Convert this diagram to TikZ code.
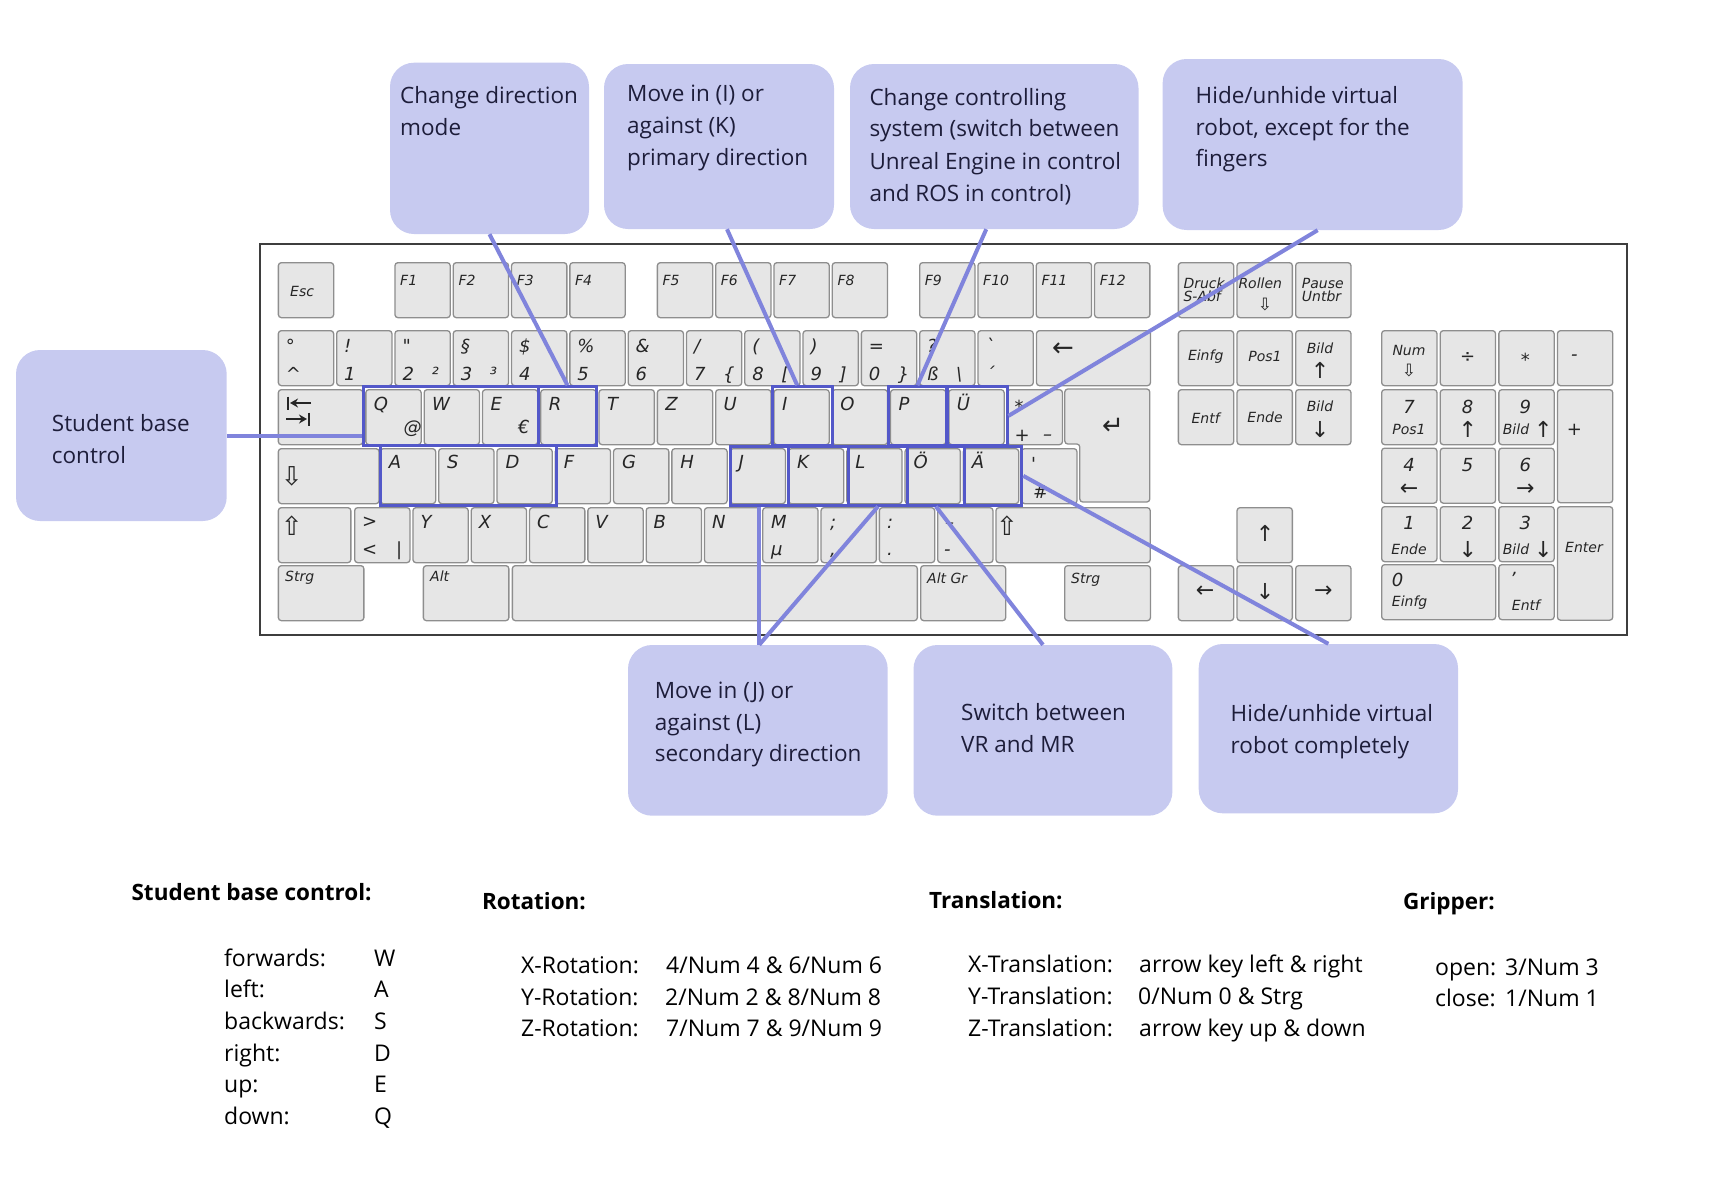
\documentclass[tikz,border=0pt]{standalone}
\usepackage{fontspec}
\setmainfont{Open Sans}
\newfontfamily\keyfont{DejaVu Sans}
\usetikzlibrary{calc,arrows.meta}
\definecolor{boxfill}{HTML}{C7CAF0}
\definecolor{linkcol}{HTML}{8084DC}
\definecolor{hlcol}{HTML}{5358C9}
\definecolor{keyfill}{HTML}{E6E6E6}
\definecolor{keyedge}{HTML}{8E8E8E}
\definecolor{framecol}{HTML}{3E3E3E}
\definecolor{notetext}{HTML}{1D1D3A}
\tikzset{
  frame/.style={draw=framecol, line width=2.5pt},
  key/.style={draw=keyedge, fill=keyfill, line width=1.3pt, rounded corners=3pt, inner sep=0pt, anchor=north west, minimum width=55.3pt, minimum height=55pt},
  keyshape/.style={draw=keyedge, fill=keyfill, line width=1.3pt, rounded corners=3pt},
  klab/.style={font=\keyfont\itshape\fontsize{18}{18}\selectfont, text=black!85, inner sep=0pt, anchor=base west},
  ksml/.style={klab, font=\keyfont\itshape\fontsize{14}{14}\selectfont},
  ksym/.style={klab, anchor=center},
  ksmlc/.style={ksml, anchor=center},
  karrow/.style={ksym, font=\keyfont\fontsize{26}{26}\selectfont},
  knav/.style={ksym, font=\keyfont\fontsize{22}{22}\selectfont},
  kmini/.style={ksym, font=\keyfont\fontsize{17}{17}\selectfont},
  tabarrow/.style={draw=black!85, line width=2pt, -{Stealth[length=8pt,width=9pt]}},
  tabbar/.style={draw=black!85, line width=2pt},
  hl/.style={draw=hlcol, line width=3pt, inner sep=0pt, minimum height=58.3pt},
  callout/.style={fill=boxfill, rounded corners=24pt, inner sep=0pt},
  link/.style={draw=linkcol, line width=4pt},
  note/.style={font=\fontsize{22.5}{30}\selectfont, text=notetext, inner sep=0pt, anchor=base west},
  legend/.style={font=\fontsize{23}{30}\selectfont, inner sep=0pt, anchor=base west},
  legendhead/.style={legend, font=\bfseries\fontsize{22.5}{30}\selectfont}
}
\begin{document}
\begin{tikzpicture}[x=1pt,y=-1pt]
\useasboundingbox (0,0) rectangle (1734,1184);
% keyboard frame
\draw[frame] (260,244) rectangle (1627,635);

% function row
\node[key] (kEsc) at (277.7,262) {};
\node[ksml] (lEsc) at (290,296.7) {Esc};
\foreach \n [count=\i from 0] in {1,2,3,4} {
  \node[key] (kF\n) at (394.3+58.3*\i,262) {};
  \node[ksml] (lF\n) at (400+58.3*\i,285) {F\n};
}
\foreach \n [count=\i from 0] in {5,6,7,8} {
  \node[key] (kF\n) at (656.7+58.3*\i,262) {};
  \node[ksml] (lF\n) at (662.4+58.3*\i,285) {F\n};
}
\foreach \n [count=\i from 0] in {9,10,11,12} {
  \node[key] (kF\n) at (919+58.3*\i,262) {};
  \node[ksml] (lF\n) at (924.7+58.3*\i,285) {F\n};
}

% number row
\foreach \shf/\dig/\agr [count=\i from 0] in {°/\textasciicircum/{},!/1/{},"/2/²,§/3/³,\$/4/{},\%/5/{},\&/6/{},{/}/7/\{,{(}/8/{[},{)}/9/{]},=/0/\},?/ß/\textbackslash,ˋ/´/{}} {
  \node[key] (kn\i) at (277.7+58.3*\i,330) {};
  \node[klab] (lns\i) at (285.7+58.3*\i,352) {\shf};
  \node[klab] (lnd\i) at (285.7+58.3*\i,380.5) {\dig};
  \node[klab] (lna\i) at (314.7+58.3*\i,380.5) {\agr};
}
\node[key, minimum width=114pt] (kBack) at (1035.8,330) {};
\node[karrow] (lBack) at (1063,349.3) {←};

% upper letter row
\node[key, minimum width=84.5pt] (kTab) at (277.7,389) {};
\draw[tabarrow] (311,403) -- (290,403);
\draw[tabbar] (288,396.5) -- (288,409.5);
\draw[tabarrow] (286,419) -- (307,419);
\draw[tabbar] (309,412.5) -- (309,425.5);
\foreach \k/\n [count=\i from 0] in {Q/Q,W/W,E/E,R/R,T/T,Z/Z,U/U,I/I,O/O,P/P,Ü/Ue} {
  \node[key] (k\n) at (365.2+58.3*\i,389) {};
  \node[klab] (l\n) at (373.7+58.3*\i,410) {\k};
}
\node[klab] (lAt) at (403.3,433.3) {@};
\node[klab] (lEuro) at (517.8,433.3) {€};
\node[key] (kPlus) at (1006.5,389) {};
\node[klab] (lPlus1) at (1014.5,413) {*};
\node[klab] (lPlus2) at (1014.5,441) {+};
\node[klab] (lPlus3) at (1043,440) {–};
\draw[keyshape] (1064.8,389) -- (1149.8,389) -- (1149.8,502) -- (1079.8,502) -- (1079.8,444) -- (1064.8,444) -- cycle;
\node[karrow] (lEnter) at (1113,426) {↵};

% home row
\node[key, minimum width=100.7pt] (kCaps) at (277.7,448) {};
\node[karrow] (lCaps) at (291.7,476.7) {⇩};
\foreach \k/\n [count=\i from 0] in {A/A,S/S,D/D,F/F,G/G,H/H,J/J,K/K,L/L,Ö/Oe,Ä/Ae} {
  \node[key] (k\n) at (379.7+58.3*\i,448) {};
  \node[klab] (l\n) at (388.7+58.3*\i,468) {\k};
}
\node[key] (kHash) at (1021,448) {};
\node[klab] (lHash1) at (1031,470) {'};
\node[klab] (lHash2) at (1033,498.3) {\#};

% lower letter row
\node[key, minimum width=72.5pt] (kLShift) at (277.7,507) {};
\node[karrow] (lLShift) at (291.7,526) {⇧};
\node[key] (kLess) at (354,507) {};
\node[klab] (lLess1) at (362,527) {>};
\node[klab] (lLess2) at (362,555) {<};
\node[klab] (lLess3) at (396,555) {|};
\foreach \k [count=\i from 0] in {Y,X,C,V,B,N} {
  \node[key] (k\k) at (412.3+58.3*\i,507) {};
  \node[klab] (l\k) at (420.3+58.3*\i,528) {\k};
}
\node[key] (kM) at (762.1,507) {};
\node[klab] (lM1) at (771,528) {M};
\node[klab] (lM2) at (771,555) {µ};
\node[key] (kSemi) at (820.4,507) {};
\node[klab] (lSemi1) at (830,528) {;};
\node[klab] (lSemi2) at (830,555) {,};
\node[key] (kColon) at (878.7,507) {};
\node[klab] (lColon1) at (887,528) {:};
\node[klab] (lColon2) at (887,555) {.};
\node[key] (kMinus) at (937,507) {};
\node[klab] (lMinus1) at (945,528.4) {–};
\node[klab] (lMinus2) at (944,555.5) {-};
\node[key, minimum width=154.3pt] (kRShift) at (995.3,507) {};
\node[karrow] (lRShift) at (1007,526) {⇧};

% bottom row
\node[key, minimum width=85.5pt] (kLCtrl) at (277.7,565) {};
\node[ksml] (lLCtrl) at (285,581.7) {Strg};
\node[key, minimum width=85.5pt] (kAlt) at (422.7,565) {};
\node[ksml] (lAlt) at (430,581.7) {Alt};
\node[key, minimum width=405pt] (kSpace) at (511.7,565) {};
\node[key, minimum width=85pt] (kAltGr) at (920,565) {};
\node[ksml] (lAltGr) at (927,583.3) {Alt Gr};
\node[key, minimum width=85.8pt] (kRCtrl) at (1064,565) {};
\node[ksml] (lRCtrl) at (1071,583.3) {Strg};

% navigation block
\node[key] (kPrint) at (1177.7,262) {};
\node[ksml] (lPrint1) at (1183.3,288.3) {Druck};
\node[ksml] (lPrint2) at (1183.3,301.7) {S-Abf};
\node[key] (kScroll) at (1236.4,262) {};
\node[ksml] (lScroll1) at (1238.3,288.3) {Rollen};
\node[kmini] (lScroll2) at (1265,305) {⇩};
\node[key] (kPause) at (1295,262) {};
\node[ksml] (lPause1) at (1301.7,288.3) {Pause};
\node[ksml] (lPause2) at (1301.7,301.7) {Untbr};
\node[key] (kIns) at (1177.7,330) {};
\node[ksmlc] (lIns) at (1205.7,356.7) {Einfg};
\node[key] (kHome) at (1236.4,330) {};
\node[ksmlc] (lHome) at (1265,356.7) {Pos1};
\node[key] (kPgUp) at (1295,330) {};
\node[ksmlc] (lPgUp1) at (1320,348.3) {Bild};
\node[knav] (lPgUp2) at (1320,370) {↑};
\node[key] (kDel) at (1177.7,389) {};
\node[ksmlc] (lDel) at (1205.7,417.7) {Entf};
\node[key] (kEnd) at (1236.4,389) {};
\node[ksmlc] (lEnd) at (1265,417.7) {Ende};
\node[key] (kPgDn) at (1295,389) {};
\node[ksmlc] (lPgDn1) at (1320,406.7) {Bild};
\node[knav] (lPgDn2) at (1320,430) {↓};
\node[key] (kUp) at (1236.4,507) {};
\node[knav] (lUp) at (1265,533.3) {↑};
\node[key] (kLeft) at (1177.7,565) {};
\node[knav] (lLeft) at (1205,591.7) {←};
\node[key] (kDown) at (1236.4,565) {};
\node[knav] (lDown) at (1265,591.7) {↓};
\node[key] (kRight) at (1295,565) {};
\node[knav] (lRight) at (1323.3,591.7) {→};

% numeric block
\node[key] (kNum) at (1381,330) {};
\node[ksmlc] (lNum1) at (1409,350) {Num};
\node[kmini] (lNum2) at (1409,371) {⇩};
\node[key] (kDiv) at (1439.6,330) {};
\node[ksym] (lDiv) at (1467.7,357.7) {÷};
\node[key] (kMul) at (1498.2,330) {};
\node[ksym] (lMul) at (1525.3,360) {*};
\node[key] (kSub) at (1556.8,330) {};
\node[ksym] (lSub) at (1574.3,357.7) {-};
\node[key] (k7) at (1381,389) {};
\node[ksym] (l7a) at (1409,406.7) {7};
\node[ksmlc] (l7b) at (1409,429) {Pos1};
\node[key] (k8) at (1439.6,389) {};
\node[ksym] (l8a) at (1467.7,406.7) {8};
\node[knav] (l8b) at (1467.7,429) {↑};
\node[key] (k9) at (1498.2,389) {};
\node[ksym] (l9a) at (1525.3,406.7) {9};
\node[ksmlc] (l9b) at (1516,429) {Bild};
\node[knav] (l9c) at (1543.3,429) {↑};
\node[key, minimum height=113pt] (kAdd) at (1556.8,389) {};
\node[ksym] (lAdd) at (1574.3,430) {+};
\node[key] (k4) at (1381,447.5) {};
\node[ksym] (l4a) at (1409,465) {4};
\node[knav] (l4b) at (1409,490) {←};
\node[key] (k5) at (1439.6,447.5) {};
\node[ksym] (l5) at (1467.7,465) {5};
\node[key] (k6) at (1498.2,447.5) {};
\node[ksym] (l6a) at (1525.3,465) {6};
\node[knav] (l6b) at (1525.3,490) {→};
\node[key] (k1) at (1381,506) {};
\node[ksym] (l1a) at (1409,522.7) {1};
\node[ksmlc] (l1b) at (1409,549.3) {Ende};
\node[key] (k2) at (1439.6,506) {};
\node[ksym] (l2a) at (1467.7,522.7) {2};
\node[knav] (l2b) at (1467.7,549.3) {↓};
\node[key] (k3) at (1498.2,506) {};
\node[ksym] (l3a) at (1525.3,522.7) {3};
\node[ksmlc] (l3b) at (1516,549.3) {Bild};
\node[knav] (l3c) at (1543.3,549.3) {↓};
\node[key, minimum height=113.5pt] (kNumEnter) at (1556.8,506) {};
\node[ksmlc] (lNumEnter) at (1584,547.3) {Enter};
\node[key, minimum width=114pt] (k0) at (1381,564) {};
\node[klab] (l0a) at (1391.7,586) {0};
\node[ksml] (l0b) at (1391.7,606.5) {Einfg};
\node[key] (kDec) at (1498.2,564) {};
\node[ksym] (lDec1) at (1515.3,574) {,};
\node[ksmlc] (lDec2) at (1526,605) {Entf};

% highlighted keys
\node[hl, minimum width=175pt] (hQWE) at (450.8,415.85) {};
\node[hl, minimum width=58.4pt] (hR) at (567.5,415.85) {};
\node[hl, minimum width=176.7pt, minimum height=60pt] (hASD) at (468.35,475) {};
\node[hl, minimum width=60.4pt] (hI) at (802.2,415.85) {};
\node[hl, minimum width=57.9pt] (hP) at (917.45,415.85) {};
\node[hl, minimum width=59.6pt] (hUe) at (977.2,415.85) {};
\node[hl, minimum width=58.5pt] (hJ) at (759.25,475.85) {};
\node[hl, minimum width=59.7pt] (hK) at (818.35,475.85) {};
\node[hl, minimum width=59.6pt] (hL) at (878,475.85) {};
\node[hl, minimum width=56.2pt] (hOe) at (935.9,475.85) {};
\node[hl, minimum width=57.8pt] (hAe) at (992.9,475.85) {};

% callouts
\node[callout, minimum width=210.7pt, minimum height=171pt] (cbQ) at (121.35,435.5) {};
\node[callout, minimum width=199pt, minimum height=171.3pt] (cbR) at (489.5,148.35) {};
\node[callout, minimum width=230pt, minimum height=165pt] (cbI) at (719,146.5) {};
\node[callout, minimum width=288.5pt, minimum height=165pt] (cbP) at (994.25,146.5) {};
\node[callout, minimum width=300pt, minimum height=171pt] (cbUe) at (1312.65,144.5) {};
\node[callout, minimum width=259.7pt, minimum height=170.7pt] (cbJ) at (757.85,730.35) {};
\node[callout, minimum width=258.9pt, minimum height=170.7pt] (cbOe) at (1042.95,730.35) {};
\node[callout, minimum width=259.3pt, minimum height=169.3pt] (cbAe) at (1328.35,728.65) {};

% connectors
\draw[link] (cbQ.east) -- (cbQ.east -| hQWE.west);
\draw[link] (cbR.south) -- (hR.north);
\draw[link] ([xshift=8pt]cbI.south) -- ([xshift=-5pt]hI.north);
\draw[link] ([xshift=-8pt]cbP.south) -- (hP.north);
\draw[link] ([xshift=5pt]cbUe.south) -- (hUe.east);
\draw[link] (hJ.south) -- (hJ.south |- cbJ.north);
\draw[link] (hJ.south |- cbJ.north) -- (hL.south);
\draw[link] (cbOe.north) -- (hOe.south);
\draw[link] (cbAe.north) -- (hAe.east);

% callout texts
\node[note] (tQ1) at (51.7,431.7) {Student base};
\node[note] (tQ2) at (51.7,463.3) {control};
\node[note] (tR1) at (400,103.3) {Change direction};
\node[note] (tR2) at (400,135) {mode};
\node[note] (tI1) at (627,101.7) {Move in (I) or};
\node[note] (tI2) at (627,133.3) {against (K)};
\node[note] (tI3) at (627,165) {primary direction};
\node[note] (tP1) at (869.3,105) {Change controlling};
\node[note] (tP2) at (869.3,136.7) {system (switch between};
\node[note] (tP3) at (869.3,169.3) {Unreal Engine in control};
\node[note] (tP4) at (869.3,201.7) {and ROS in control)};
\node[note] (tUe1) at (1195.5,103.3) {Hide/unhide virtual};
\node[note] (tUe2) at (1195.5,135) {robot, except for the};
\node[note] (tUe3) at (1195.5,166.7) {fingers};
\node[note] (tJ1) at (654.6,698.3) {Move in (J) or};
\node[note] (tJ2) at (654.6,730) {against (L)};
\node[note] (tJ3) at (654.6,761.7) {secondary direction};
\node[note] (tOe1) at (961,720.7) {Switch between};
\node[note] (tOe2) at (961,752.3) {VR and MR};
\node[note] (tAe1) at (1230.5,721.7) {Hide/unhide virtual};
\node[note] (tAe2) at (1230.5,753) {robot completely};

% key summary
\node[legendhead] (hBase) at (131.4,900.7) {Student base control:};
\node[legend] (bF1) at (224,966) {forwards:};
\node[legend] (bF2) at (374,966) {W};
\node[legend] (bL1) at (224,997.7) {left:};
\node[legend] (bL2) at (374,997.7) {A};
\node[legend] (bB1) at (224,1029.3) {backwards:};
\node[legend] (bB2) at (374,1029.3) {S};
\node[legend] (bR1) at (224,1061) {right:};
\node[legend] (bR2) at (374,1061) {D};
\node[legend] (bU1) at (224,1092.7) {up:};
\node[legend] (bU2) at (374,1092.7) {E};
\node[legend] (bD1) at (224,1124.3) {down:};
\node[legend] (bD2) at (374,1124.3) {Q};
\node[legendhead] (hRot) at (481.8,909.3) {Rotation:};
\node[legend] (rX1) at (521,973.3) {X-Rotation:};
\node[legend] (rX2) at (666,973.3) {4/Num 4 \& 6/Num 6};
\node[legend] (rY1) at (521,1005) {Y-Rotation:};
\node[legend] (rY2) at (665,1005) {2/Num 2 \& 8/Num 8};
\node[legend] (rZ1) at (521,1036.7) {Z-Rotation:};
\node[legend] (rZ2) at (666,1036.7) {7/Num 7 \& 9/Num 9};
\node[legendhead] (hTrans) at (929,908.3) {Translation:};
\node[legend] (tX1) at (968,972.7) {X-Translation:};
\node[legend] (tX2) at (1139,972.7) {arrow key left \& right};
\node[legend] (tY1) at (968,1004.3) {Y-Translation:};
\node[legend] (tY2) at (1138,1004.3) {0/Num 0 \& Strg};
\node[legend] (tZ1) at (968,1036) {Z-Translation:};
\node[legend] (tZ2) at (1139,1036) {arrow key up \& down};
\node[legendhead] (hGrip) at (1402.8,909.3) {Gripper:};
\node[legend] (gO1) at (1434.9,975) {open:};
\node[legend] (gO2) at (1505,975) {3/Num 3};
\node[legend] (gC1) at (1434.9,1006.7) {close:};
\node[legend] (gC2) at (1505,1006.7) {1/Num 1};
\end{tikzpicture}
\end{document}
